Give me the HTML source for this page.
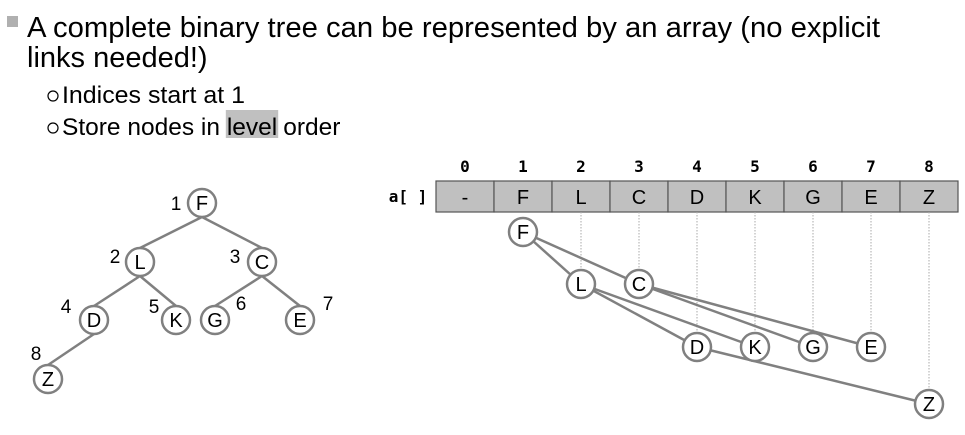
<!DOCTYPE html>
<html><head><meta charset="utf-8"><style>
body{margin:0;width:965px;height:430px;background:#fff;overflow:hidden;font-family:"Liberation Sans",sans-serif}
</style></head><body>
<svg width="965" height="430" font-family="Liberation Sans, sans-serif">
<g>
<rect x="7" y="16" width="11" height="11" fill="#b0b0b0"/>
<text x="27" y="37" font-size="29" textLength="853" lengthAdjust="spacingAndGlyphs">A complete binary tree can be represented by an array (no explicit</text>
<text x="27" y="67" font-size="29">links needed!)</text>
<circle cx="53" cy="96" r="5" fill="none" stroke="#000" stroke-width="1.2"/>
<text x="62" y="103" font-size="24.5" textLength="183" lengthAdjust="spacingAndGlyphs">Indices start at 1</text>
<circle cx="53" cy="128" r="5" fill="none" stroke="#000" stroke-width="1.2"/>
<rect id="hl" x="229" y="110" width="53" height="28" fill="#c0c0c0"/>
<text id="st" x="62" y="135" font-size="24.5">Store nodes in <tspan id="lv">level</tspan><tspan dx="6">order</tspan></text>
</g>
<g id="tree"></g>
<g id="arr"></g>
</svg>
<script>
const labels=['-','F','L','C','D','K','G','E','Z'];
const treeX=[0,202,140,262,94,176,215,300,48];
const treeY=[0,203,262,262,320,320,320,320,379];
const numX=[0,176,115,235,66,154,241,328,36];
const numY=[0,210,263,263,313,313,310,310,360];
const arrNodeY=[0,232,284,284,347,347,347,347,404];
const NS='http://www.w3.org/2000/svg';
function mk(p,t,a){const e=document.createElementNS(NS,t);for(const k in a)e.setAttribute(k,a[k]);p.appendChild(e);return e;}
try{const st=document.getElementById('st');const s=st.getStartPositionOfChar(15),e=st.getEndPositionOfChar(19);
const h=document.getElementById('hl');h.setAttribute('x',s.x-1);h.setAttribute('width',e.x-s.x+2);}catch(err){}
const tree=document.getElementById('tree'),arr=document.getElementById('arr');
const ln={stroke:'#808080','stroke-width':2.5};
const R=14;
for(let i=2;i<=8;i++){const p=Math.floor(i/2);
const e=mk(tree,'line',Object.assign({x1:treeX[p],y1:treeY[p]+R,x2:treeX[i],y2:treeY[i]-R},ln));

}
for(let i=1;i<=8;i++){
const c=mk(tree,'circle',{cx:treeX[i],cy:treeY[i],r:R,fill:'#fff',stroke:'#808080','stroke-width':2.5});


const t=mk(tree,'text',{x:treeX[i],y:treeY[i]+7,'font-size':20,'text-anchor':'middle'});t.textContent=labels[i];
const n=mk(tree,'text',{x:numX[i],y:numY[i],'font-size':19,'text-anchor':'middle'});n.textContent=i;

}
const x0=436,cw=58,y0=181,ch=31;
const cx=i=>x0+cw*i+cw/2;
const al=mk(arr,'text',{x:408,y:202,'font-size':16,'font-weight':'bold','font-family':'DejaVu Sans Mono, monospace','text-anchor':'middle'});al.textContent='a[ ]';
for(let i=0;i<=8;i++){
const r=mk(arr,'rect',{x:x0+cw*i,y:y0,width:cw,height:ch,fill:'#c0c0c0',stroke:'#555','stroke-width':1.2});


const t=mk(arr,'text',{x:cx(i),y:y0+23,'font-size':20,'text-anchor':'middle'});t.textContent=labels[i];
const h=mk(arr,'text',{x:cx(i),y:172,'font-size':16,'font-weight':'bold','font-family':'DejaVu Sans Mono, monospace','text-anchor':'middle'});h.textContent=i;

}
for(let i=2;i<=8;i++){mk(arr,'line',{x1:cx(i),y1:y0+ch,x2:cx(i),y2:arrNodeY[i]-14,stroke:'#aaa','stroke-width':1,'stroke-dasharray':'1.5,1.5'});}
for(let i=2;i<=8;i++){const p=Math.floor(i/2);
const e=mk(arr,'line',Object.assign({x1:cx(p),y1:arrNodeY[p],x2:cx(i),y2:arrNodeY[i]},ln));

}
for(let i=1;i<=8;i++){
const c=mk(arr,'circle',{cx:cx(i),cy:arrNodeY[i],r:R,fill:'#fff',stroke:'#808080','stroke-width':2.5});


const t=mk(arr,'text',{x:cx(i),y:arrNodeY[i]+7,'font-size':20,'text-anchor':'middle'});t.textContent=labels[i];}
</script>
</body></html>
